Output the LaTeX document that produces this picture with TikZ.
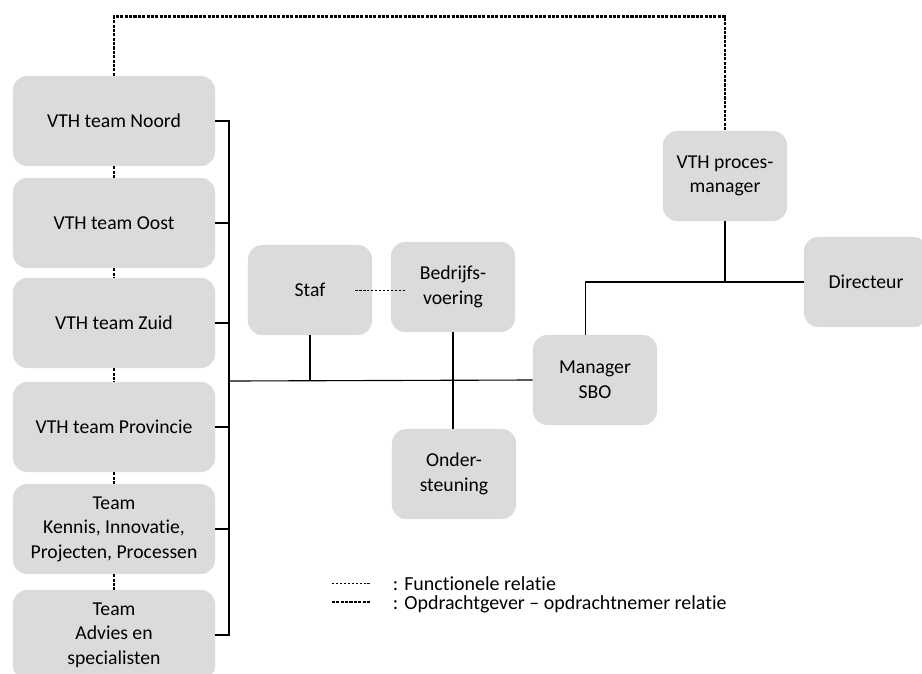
\documentclass[tikz,border=0pt]{standalone}
\usepackage{fontspec}
\setmainfont{Carlito}[Ligatures=NoCommon]
\usetikzlibrary{positioning}

\begin{document}
\begin{tikzpicture}[x=0.025cm,y=-0.025cm,
  box/.style={fill=gray!28,rounded corners=10pt,align=center,font=\fontsize{14}{17.5}\selectfont},
  teambox/.style={box,minimum width=5.05cm,minimum height=2.25cm},
  smallbox/.style={box,minimum width=3.1cm,minimum height=2.25cm},
  lijn/.style={line width=0.8pt},
  func/.style={line width=0.6pt,dash pattern=on 1.6pt off 1.2pt},
  opdr/.style={line width=2pt,dash pattern=on 2.2pt off 0.9pt},
  legtext/.style={anchor=west,font=\fontsize{14.2}{17}\selectfont}]
\useasboundingbox (0,0) rectangle (922,673);
%%%%%%%%% teams links
\node[teambox] (noord) at (114,121) {VTH team Noord};
\node[teambox] (oost) at (114,223) {VTH team Oost};
\node[teambox] (zuid) at (114,323) {VTH team Zuid};
\node[teambox] (prov) at (114,427) {VTH team Provincie};
\node[teambox] (kennis) at (114,529) {Team\\Kennis, Innovatie,\\Projecten, Processen};
\node[teambox] (advies) at (114,635) {Team\\Advies en\\specialisten};
\foreach \a/\b in {noord/oost,oost/zuid,zuid/prov,prov/kennis,kennis/advies}
  \draw[opdr] (\a.south) -- (\b.north);
%%%%%%%%% midden en rechts
\node[smallbox] (staf) at (310,290) {Staf};
\node[smallbox] (bedr) at (453,287) {Bedrijfs-\\voering};
\node[smallbox] (onder) at (454,474) {Onder-\\steuning};
\node[smallbox] (mgr) at (595,380) {Manager\\SBO};
\node[smallbox] (pm) at (725,176) {VTH proces-\\manager};
\node[smallbox] (dir) at (866,282) {Directeur};
%%%%%%%%% verbindingen
\coordinate (bar) at (229,381);
\draw[lijn] (noord.east) -| (bar) |- (advies.east);
\foreach \t in {oost,zuid,prov,kennis}
  \draw[lijn] (\t.east) -- (\t.east -| bar);
\draw[lijn] (bar) -- (mgr.west);
\draw[lijn] (staf.south) -- (staf.south |- bar);
\draw[lijn] (bedr.south) -- (bedr.south |- onder.north);
\draw[lijn] (pm.south) -- (pm.south |- dir.west);
\draw[lijn] (dir.west) -| ([xshift=-7]mgr.north);
\draw[func] ([xshift=-12]staf.east) -- ([xshift=10]bedr.west |- staf.east);
\draw[opdr] (noord.north) -- ++(0,-59) -| (pm.north);
%%%%%%%%% legenda
\coordinate (f1) at (332,583);
\coordinate (f2) at (370,583);
\coordinate (o1) at (332,602);
\coordinate (o2) at (370,602);
\draw[func] (f1) -- (f2);
\draw[opdr,line width=1.4pt] (o1) -- (o2);
\node[legtext] (ftxt) at (388,584) {: Functionele relatie};
\node[legtext] (otxt) at (388,604) {: Opdrachtgever -- opdrachtnemer relatie};
\end{tikzpicture}
\end{document}
